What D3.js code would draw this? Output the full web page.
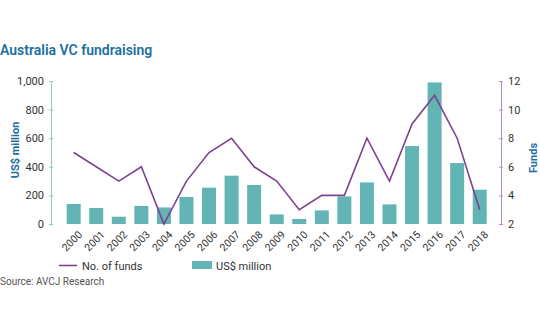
<!DOCTYPE html>
<html>
<head>
<meta charset="utf-8">
<script src="https://cdn.jsdelivr.net/npm/d3@7"></script>
<style>
  body { margin: 0; background: #fff; }
  text { font-family: "Liberation Sans Narrow", "Roboto", sans-serif; }
</style>
</head>
<body>
<script>
const years = ["2000","2001","2002","2003","2004","2005","2006","2007","2008","2009",
               "2010","2011","2012","2013","2014","2015","2016","2017","2018"];
const amount = [140,112,51,126,116,189,254,338,273,67,35,95,193,291,137,545,990,426,240];
const funds = [7,6,5,6,2,5,7,8,6,5,3,4,4,8,5,9,11,8,3];
const leftTicks = [0,200,400,600,800,1000];
const rightTicks = [2,4,6,8,10,12];

const w = 540, h = 334;
const teal = "#62b4b5", purple = "#7d4390", blue = "#1d6f9f";

const svg = d3.select("body").append("svg")
  .attr("width", w).attr("height", h);

svg.append("text")
  .attr("x", 0).attr("y", 55)
  .attr("fill", blue)
  .style("font-size", "14px")
  .style("font-weight", "600")
  .text("Australia VC fundraising");

const x = d3.scaleBand().domain(years).range([62.4, 491]).paddingInner(0.38).paddingOuter(0.19);
const yL = d3.scaleLinear().domain([0, 1000]).range([224, 81]);
const yR = d3.scaleLinear().domain([2, 12]).range([224, 81]);

// bars
svg.append("g").selectAll("rect")
  .data(amount)
  .enter().append("rect")
  .attr("x", (d, i) => x(years[i]))
  .attr("y", d => yL(d))
  .attr("width", x.bandwidth())
  .attr("height", d => yL(0) - yL(d))
  .attr("fill", teal);

// line
const line = d3.line()
  .x((d, i) => x(years[i]) + x.bandwidth() / 2)
  .y(d => yR(d));
svg.append("path")
  .datum(funds)
  .attr("d", line)
  .attr("fill", "none")
  .attr("stroke", purple)
  .attr("stroke-width", 1.6);

// left axis
const axL = svg.append("g")
  .attr("transform", "translate(51,0)")
  .call(d3.axisLeft(yL).tickValues(leftTicks).tickSize(4).tickSizeOuter(0).tickFormat(d3.format(",")));
axL.select(".domain").attr("stroke", "#8ccaca");
axL.selectAll(".tick line").attr("stroke", "#8ccaca").attr("x1", 2).attr("x2", -2);
axL.selectAll(".tick text").attr("x", -7).attr("fill", "#333").style("font-size", "11px");

// right axis
const axR = svg.append("g")
  .attr("transform", "translate(501,0)")
  .call(d3.axisRight(yR).tickValues(rightTicks).tickSize(4).tickSizeOuter(0));
axR.select(".domain").attr("stroke", "#b48cc4");
axR.selectAll(".tick line").attr("stroke", "#b48cc4").attr("x1", -2).attr("x2", 2);
axR.selectAll(".tick text").attr("x", 7).attr("fill", "#333").style("font-size", "11px");

// x labels
svg.append("g").selectAll("text")
  .data(years)
  .enter().append("text")
  .attr("transform", d => "translate(" + (x(d) + x.bandwidth() / 2 + 4) + ",230) rotate(-45)")
  .attr("text-anchor", "end")
  .attr("dy", "0.7em")
  .attr("fill", "#333")
  .style("font-size", "10.5px")
  .text(d => d);

// axis titles
svg.append("text")
  .attr("transform", "translate(19,150) rotate(-90)")
  .attr("text-anchor", "middle")
  .attr("fill", blue)
  .style("font-size", "11px")
  .style("font-weight", "bold")
  .text("US$ million");
svg.append("text")
  .attr("transform", "translate(537,158) rotate(-90)")
  .attr("text-anchor", "middle")
  .attr("fill", blue)
  .style("font-size", "11px")
  .style("font-weight", "bold")
  .text("Funds");

// legend
svg.append("line")
  .attr("x1", 59).attr("x2", 77).attr("y1", 265.5).attr("y2", 265.5)
  .attr("stroke", purple).attr("stroke-width", 1.6);
svg.append("text")
  .attr("x", 82).attr("y", 269.5)
  .attr("fill", "#333").style("font-size", "11px")
  .text("No. of funds");
svg.append("rect")
  .attr("x", 192).attr("y", 261).attr("width", 20).attr("height", 8)
  .attr("fill", teal);
svg.append("text")
  .attr("x", 216).attr("y", 269.5)
  .attr("fill", "#333").style("font-size", "11px")
  .text("US$ million");

svg.append("text")
  .attr("x", 0).attr("y", 285)
  .attr("fill", "#555").style("font-size", "10px")
  .text("Source: AVCJ Research");
</script>
</body>
</html>
